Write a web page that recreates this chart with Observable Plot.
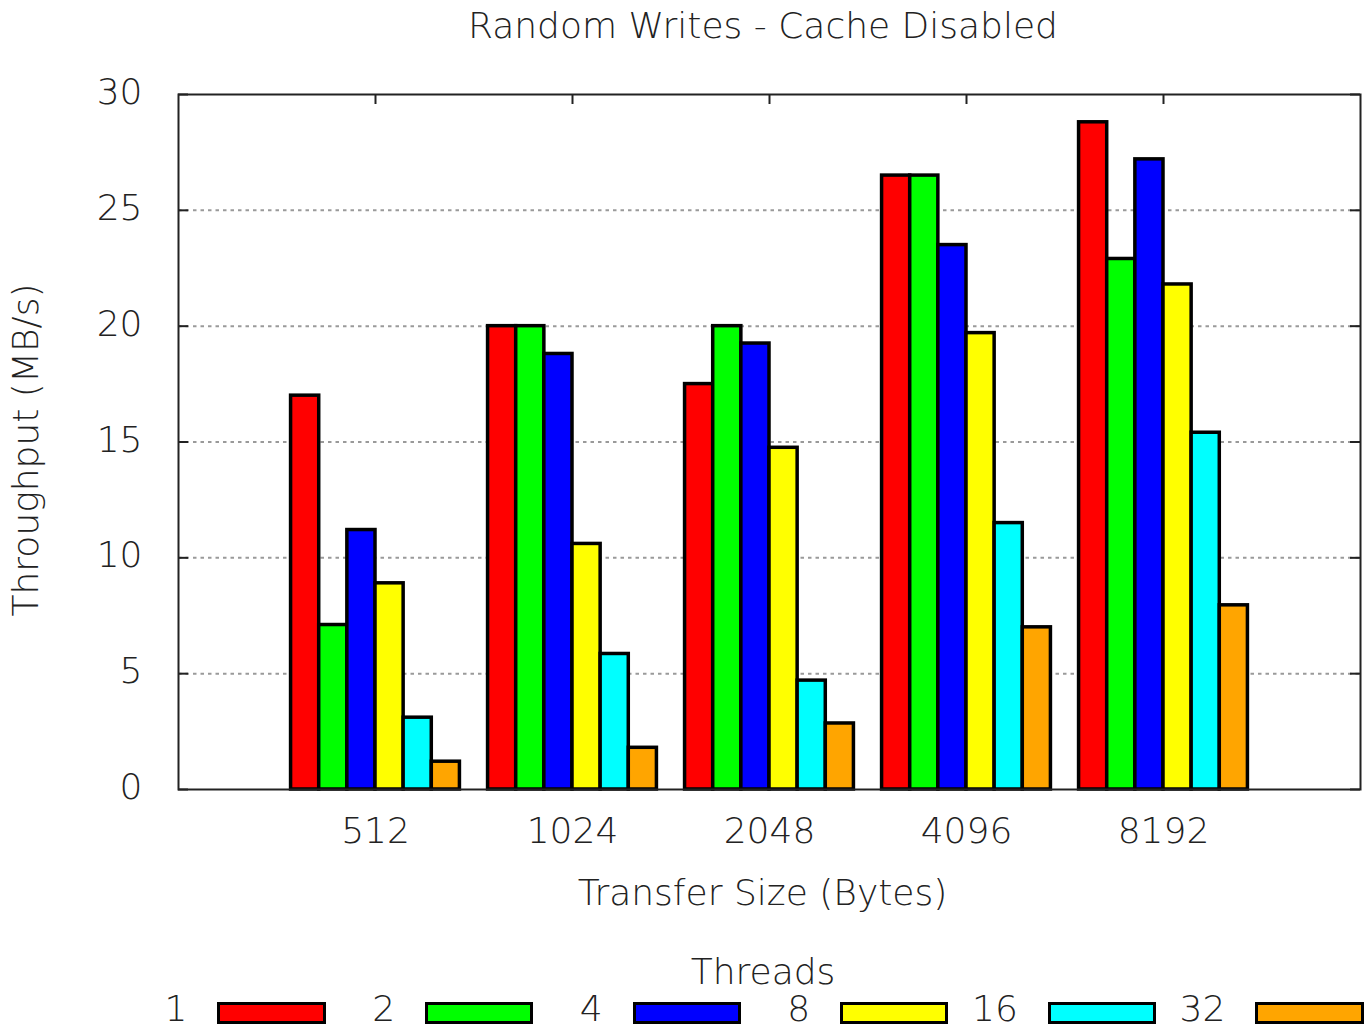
<!DOCTYPE html>
<html>
<head>
<meta charset="utf-8">
<script src="https://cdn.jsdelivr.net/npm/d3@7"></script>
<script src="https://cdn.jsdelivr.net/npm/@observablehq/plot@0.6"></script>
<style>
  html, body { margin: 0; padding: 0; background: #fff; overflow: hidden; }
  body { width: 1369px; height: 1030px; font-family: "DejaVu Sans", sans-serif; font-weight: 200; color: #222; }
  #title { height: 60px; line-height: 52px; font-size: 36px; text-align: center; padding-left: 157px; white-space: nowrap; }
  #chart svg { display: block; }
  #legend { position: relative; height: 100px; font-size: 36px; }
  #legend .key-title { position: absolute; top: 22px; left: 157px; right: 0; height: 40px; line-height: 40px; text-align: center; }
  #legend .key-row { position: absolute; top: 64px; left: 118px; height: 30px; display: flex; }
  #legend .item { width: 207.6px; display: flex; align-items: center; height: 30px; line-height: 30px; }
  #legend .item span { width: 70px; text-align: right; margin-right: 30px; }
  #legend .item i { display: block; position: relative; top: 4px; width: 109px; height: 22px; box-sizing: border-box; border: 3px solid #000; }
</style>
</head>
<body>
<div id="title">Random Writes - Cache Disabled</div>
<div id="chart"></div>
<div id="legend">
  <div class="key-title">Threads</div>
  <div class="key-row"></div>
</div>
<script>
// Transfer sizes (x categories) and thread counts (series)
const groups = ["512", "1024", "2048", "4096", "8192"];
const threads = ["1", "2", "4", "8", "16", "32"];
const colors = ["#ff0000", "#00ff00", "#0000ff", "#ffff00", "#00ffff", "#ffa500"];

// Throughput in MB/s, one array per thread count, ordered like `groups`
const threads1 = [17.0, 20.0, 17.5, 26.5, 28.8];
const threads2 = [7.1, 20.0, 20.0, 26.5, 22.9];
const threads4 = [11.2, 18.8, 19.25, 23.5, 27.2];
const threads8 = [8.9, 10.6, 14.75, 19.7, 21.8];
const threads16 = [3.1, 5.85, 4.7, 11.5, 15.4];
const threads32 = [1.2, 1.8, 2.85, 7.0, 7.95];

const yTicks = [0, 5, 10, 15, 20, 25, 30];
const gridTicks = [5, 10, 15, 20, 25];

const series = [threads1, threads2, threads4, threads8, threads16, threads32];
const rows = [];
threads.forEach((t, j) => groups.forEach((g, i) => rows.push({group: g, gi: i, thread: t, tj: j, value: series[j][i]})));

// Each cluster holds one bar per thread plus one empty slot of spacing
const slot = 1 / (threads.length + 1);
const barStart = d => d.gi - (threads.length / 2) * slot + d.tj * slot;
const groupIdx = groups.map((g, i) => i);

const width = 1369, height = 870;
const marginLeft = 178, marginRight = 9, marginTop = 34, marginBottom = 141;
const plotW = width - marginLeft - marginRight;
const plotH = height - marginTop - marginBottom;
const tickLen = 10;

const chart = Plot.plot({
  width, height, marginLeft, marginRight, marginTop, marginBottom,
  style: {fontFamily: "DejaVu Sans, sans-serif", fontWeight: 200, fontSize: "36px", color: "#222", background: "white", overflow: "visible"},
  x: {domain: [-1, groups.length], axis: null},
  y: {domain: [0, 30], axis: null, label: null},
  color: {domain: threads, range: colors},
  marks: [
    Plot.ruleY(gridTicks, {stroke: "#9a9a9a", strokeWidth: 2, strokeDasharray: "3.5,4"}),
    Plot.rect(rows, {
      x1: barStart,
      x2: d => barStart(d) + slot,
      y1: 0,
      y2: "value",
      fill: "thread",
      stroke: "#000",
      strokeWidth: 3.5
    }),
    // inward tick marks on all four sides
    Plot.ruleY(yTicks, {insetRight: plotW - tickLen, stroke: "#222", strokeWidth: 2}),
    Plot.ruleY(yTicks, {insetLeft: plotW - tickLen, stroke: "#222", strokeWidth: 2}),
    Plot.ruleX(groupIdx, {insetBottom: plotH - tickLen, stroke: "#222", strokeWidth: 2}),
    Plot.frame({stroke: "#222", strokeWidth: 2}),
    Plot.axisY({ticks: yTicks, tickSize: 0, tickPadding: 36, fontSize: 36, dy: -2, label: null}),
    Plot.axisX({ticks: groupIdx, tickSize: 0, tickPadding: 28, fontSize: 36, tickFormat: i => groups[i], label: null}),
    Plot.text(["Throughput (MB/s)"], {frameAnchor: "left", textAnchor: "middle", rotate: -90, dx: -152, dy: 8, fontSize: 36, lineAnchor: "middle"}),
    Plot.text(["Transfer Size (Bytes)"], {frameAnchor: "bottom", textAnchor: "middle", dx: -7, dy: 104, fontSize: 36, lineAnchor: "middle"})
  ]
});
document.getElementById("chart").appendChild(chart);

// Key: thread count label followed by its colour swatch
const row = document.querySelector("#legend .key-row");
threads.forEach((t, j) => {
  const item = document.createElement("div");
  item.className = "item";
  const label = document.createElement("span");
  label.textContent = t;
  const sw = document.createElement("i");
  sw.style.background = colors[j];
  item.appendChild(label);
  item.appendChild(sw);
  row.appendChild(item);
});
</script>
</body>
</html>
